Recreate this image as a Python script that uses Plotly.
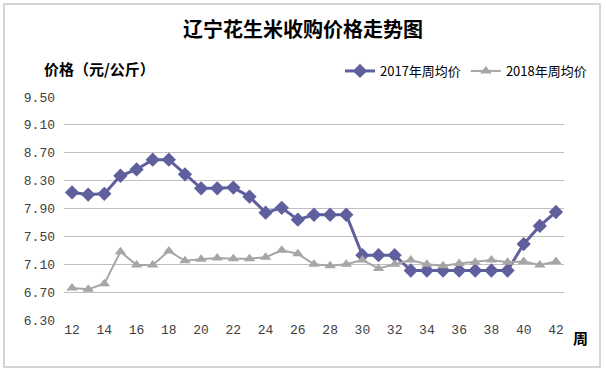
import plotly.graph_objects as go

weeks = list(range(12, 43))
price_2017 = [8.13, 8.10, 8.11, 8.37, 8.46, 8.60, 8.60, 8.39, 8.19, 8.19,
              8.20, 8.07, 7.84, 7.91, 7.74, 7.81, 7.81, 7.81, 7.23, 7.23,
              7.23, 7.01, 7.01, 7.01, 7.01, 7.01, 7.01, 7.01, 7.39, 7.65, 7.85]
price_2018 = [6.76, 6.74, 6.82, 7.28, 7.09, 7.09, 7.29, 7.15, 7.17, 7.19,
              7.18, 7.18, 7.20, 7.30, 7.25, 7.10, 7.08, 7.10, 7.16, 7.04,
              7.10, 7.16, 7.10, 7.08, 7.11, 7.13, 7.16, 7.13, 7.14, 7.09, 7.14]
x_ticks = list(range(12, 43, 2))
y_ticks = [6.30, 6.70, 7.10, 7.50, 7.90, 8.30, 8.70, 9.10, 9.50]

title_text = "辽宁花生米收购价格走势图"
y_title = "价格（元/公斤）"
x_title = "周"
name_2017 = "2017年周均价"
name_2018 = "2018年周均价"

CJK = "Noto Sans CJK SC, SimSun, sans-serif"
NUM = "Liberation Mono, monospace"

fig = go.Figure()
fig.add_trace(go.Scatter(
    x=weeks, y=price_2017, name=name_2017, mode="lines+markers",
    line=dict(color="#5F5F9E", width=3),
    marker=dict(symbol="diamond", size=11, color="#5F5F9E"),
))
fig.add_trace(go.Scatter(
    x=weeks, y=price_2018, name=name_2018, mode="lines+markers",
    line=dict(color="#A6A6A6", width=2),
    marker=dict(symbol="triangle-up", size=10, color="#A6A6A6"),
))

# paper geometry: plot area x 64..564 px, y 97..320 px
L, R, T, B = 64, 42, 97, 50
W, H = 606 - L - R, 370 - T - B

def px(x):
    return (x - L) / W

def py(y):
    return (370 - B - y) / H

fig.update_layout(
    width=606, height=370,
    margin=dict(l=L, r=R, t=T, b=B, autoexpand=False),
    paper_bgcolor="white", plot_bgcolor="white",
    title=dict(text=title_text, x=0.5, xanchor="center", y=1 - 30 / 370,
               yanchor="middle",
               font=dict(family=CJK, size=20, color="#000000", weight="bold")),
    showlegend=True,
    legend=dict(orientation="h", x=px(592), xanchor="right", y=py(71),
                yanchor="middle", font=dict(family=CJK, size=13, color="#000000"),
                bgcolor="rgba(0,0,0,0)", itemwidth=30, tracegroupgap=0),
    xaxis=dict(range=[11.5, 42.5], tickmode="array", tickvals=x_ticks,
               ticktext=[str(v) for v in x_ticks], showgrid=False,
               zeroline=False, showline=False, ticks="",
               tickfont=dict(family=NUM, size=13, color="#404040")),
    yaxis=dict(range=[6.30, 9.50], tickmode="array", tickvals=y_ticks,
               ticktext=[f"{v:.2f}" for v in y_ticks], showgrid=True,
               gridcolor="#C0C0C0", gridwidth=1, zeroline=False,
               showline=False, ticks="", ticklabelstandoff=8,
               tickfont=dict(family=NUM, size=13, color="#404040")),
    shapes=[dict(type="rect", xref="paper", yref="paper",
                 x0=px(4), x1=px(600), y0=py(367), y1=py(4),
                 line=dict(color="#C8C8C8", width=1.5), layer="below")],
    annotations=[
        dict(text=y_title, xref="paper", yref="paper", x=px(42), y=py(68),
             xanchor="left", yanchor="middle", showarrow=False,
             font=dict(family=CJK, size=15, color="#000000", weight="bold")),
        dict(text=x_title, xref="paper", yref="paper", x=px(571), y=py(337),
             xanchor="left", yanchor="middle", showarrow=False,
             font=dict(family=CJK, size=15, color="#000000", weight="bold")),
    ],
)

fig.write_html(
    "out.html",
    config={"displayModeBar": False},
    post_script="document.body.style.margin='0';document.body.style.padding='0';",
)
